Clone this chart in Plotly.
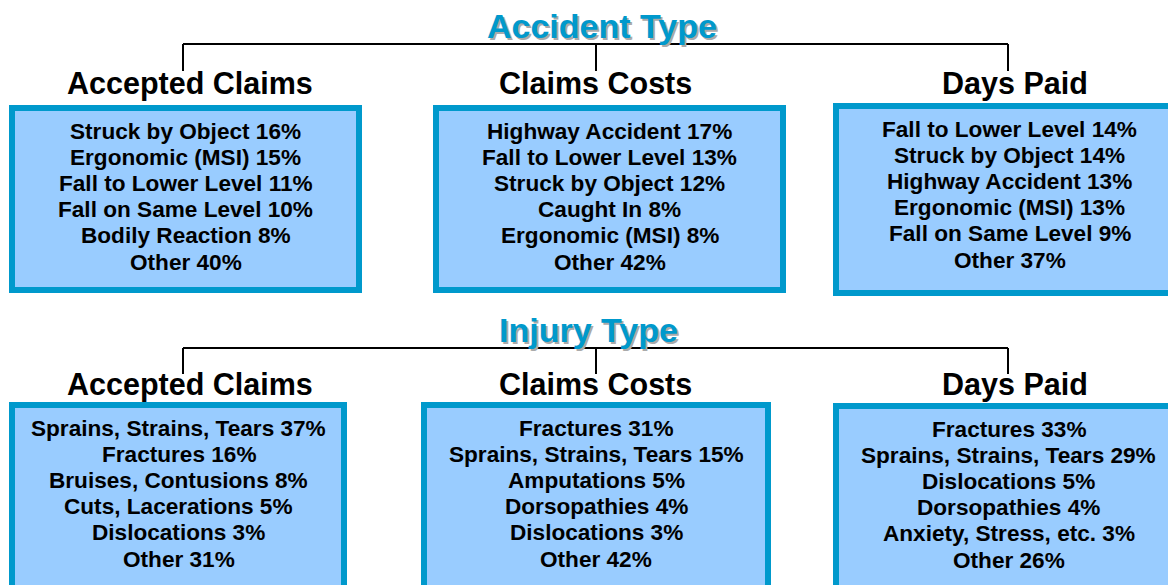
import plotly.graph_objects as go

# ---------------- data ----------------
section_titles = ["Accident Type", "Injury Type"]
panel_titles = ["Accepted Claims", "Claims Costs", "Days Paid"]

acc_claims_labels = ["Struck by Object", "Ergonomic (MSI)", "Fall to Lower Level",
                     "Fall on Same Level", "Bodily Reaction", "Other"]
acc_claims_values = [16, 15, 11, 10, 8, 40]

acc_costs_labels = ["Highway Accident", "Fall to Lower Level", "Struck by Object",
                    "Caught In", "Ergonomic (MSI)", "Other"]
acc_costs_values = [17, 13, 12, 8, 8, 42]

acc_days_labels = ["Fall to Lower Level", "Struck by Object", "Highway Accident",
                   "Ergonomic (MSI)", "Fall on Same Level", "Other"]
acc_days_values = [14, 14, 13, 13, 9, 37]

inj_claims_labels = ["Sprains, Strains, Tears", "Fractures", "Bruises, Contusions",
                     "Cuts, Lacerations", "Dislocations", "Other"]
inj_claims_values = [37, 16, 8, 5, 3, 31]

inj_costs_labels = ["Fractures", "Sprains, Strains, Tears", "Amputations",
                    "Dorsopathies", "Dislocations", "Other"]
inj_costs_values = [31, 15, 5, 4, 3, 42]

inj_days_labels = ["Fractures", "Sprains, Strains, Tears", "Dislocations",
                   "Dorsopathies", "Anxiety, Stress, etc.", "Other"]
inj_days_values = [33, 29, 5, 4, 3, 26]

# ---------------- layout geometry (pixel-like coords) ----------------
W, H = 1176, 585
PAGE_OFFSET = 8  # default body margin of the html page
FONT = "Arial, Liberation Sans, sans-serif"
BLUE = "#0099cc"
FILL = "#99ccff"
BW = 6  # border width

# outer box edges: (x0, x1, y0, y1)
boxes = [
    [(9, 362, 105, 293), (433, 786, 105, 293), (833, 1200, 103, 296)],
    [(9, 347, 402, 610), (421, 771, 402, 610), (833, 1200, 403, 610)],
]
panel_data = [
    [(acc_claims_labels, acc_claims_values), (acc_costs_labels, acc_costs_values),
     (acc_days_labels, acc_days_values)],
    [(inj_claims_labels, inj_claims_values), (inj_costs_labels, inj_costs_values),
     (inj_days_labels, inj_days_values)],
]
text_cx = [[185.5, 609.5, 1009.5], [178.5, 596, 1008.5]]

section_title_pos = [(602, 26), (588, 330)]
bracket_y = [44, 348]
bracket_drop = [71, 374]
bracket_x = [183, 596, 1008]
panel_title_x = [189.5, 595, 1015]
panel_title_y = [83, 384]

fig = go.Figure()
shapes = []
annotations = []

for r in range(2):
    # bracket
    shapes.append(dict(type="line", x0=bracket_x[0], x1=bracket_x[2], y0=bracket_y[r], y1=bracket_y[r],
                       line=dict(color="black", width=2), xref="x", yref="y"))
    for bx in bracket_x:
        shapes.append(dict(type="line", x0=bx, x1=bx, y0=bracket_y[r], y1=bracket_drop[r],
                           line=dict(color="black", width=2), xref="x", yref="y"))
    # section title with shadow
    tx, ty = section_title_pos[r]
    annotations.append(dict(x=tx + 2, y=ty + 2, text=f"<b>{section_titles[r]}</b>", showarrow=False,
                            xref="x", yref="y", xanchor="center", yanchor="middle",
                            font=dict(family=FONT, size=34, color="#aaaaaa")))
    annotations.append(dict(x=tx, y=ty, text=f"<b>{section_titles[r]}</b>", showarrow=False,
                            xref="x", yref="y", xanchor="center", yanchor="middle",
                            font=dict(family=FONT, size=34, color=BLUE)))
    for c in range(3):
        annotations.append(dict(x=panel_title_x[c], y=panel_title_y[r], text=f"<b>{panel_titles[c]}</b>",
                                showarrow=False, xref="x", yref="y", xanchor="center", yanchor="middle",
                                font=dict(family=FONT, size=30.5, color="black")))
        x0, x1, y0, y1 = boxes[r][c]
        shapes.append(dict(type="rect", x0=x0 + BW / 2, x1=x1 - BW / 2, y0=y0 + BW / 2, y1=y1 - BW / 2,
                           line=dict(color=BLUE, width=BW), fillcolor=FILL, xref="x", yref="y", layer="below"))
        labels, values = panel_data[r][c]
        for i, (lab, val) in enumerate(zip(labels, values)):
            annotations.append(dict(x=text_cx[r][c], y=y0 + 26 + i * 26.2, text=f"<b>{lab} {val}%</b>",
                                    showarrow=False, xref="x", yref="y", xanchor="center", yanchor="middle",
                                    font=dict(family=FONT, size=22.6, color="black")))

fig.update_layout(
    width=W, height=H,
    margin=dict(l=0, r=0, t=0, b=0),
    paper_bgcolor="white", plot_bgcolor="white",
    xaxis=dict(range=[PAGE_OFFSET, W + PAGE_OFFSET], visible=False, fixedrange=True),
    yaxis=dict(range=[H + PAGE_OFFSET, PAGE_OFFSET], visible=False, fixedrange=True),
    shapes=shapes, annotations=annotations, showlegend=False,
)

fig.write_html("out.html")
